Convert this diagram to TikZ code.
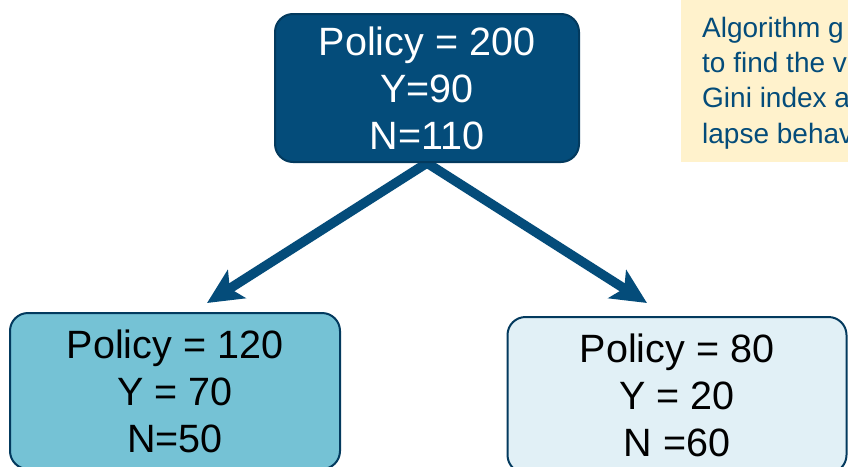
\documentclass[tikz,border=0pt]{standalone}
\usepackage{fontspec}
\setmainfont{Liberation Sans}
\usetikzlibrary{arrows.meta,backgrounds}
\definecolor{dkblue}{RGB}{4,76,122}
\definecolor{dkedge}{RGB}{3,58,94}
\definecolor{midblue}{RGB}{117,194,213}
\definecolor{ltblue}{RGB}{225,240,246}
\definecolor{noteyellow}{RGB}{255,242,204}
\tikzset{
  treebox/.style={draw=dkedge, line width=2pt, rounded corners=18pt, align=center,
    font=\fontsize{39.5}{47}\selectfont, inner sep=0pt},
  splitarrow/.style={draw=dkblue, line width=9.5pt,
    -{Stealth[length=35pt,width=33pt,inset=8pt]}},
  notebox/.style={fill=noteyellow, draw=none, inner sep=0pt},
  notetext/.style={text=dkblue, align=left, inner sep=0pt,
    font=\fontsize{28}{35.3}\selectfont}
}
\begin{document}
\begin{tikzpicture}[x=1pt,y=-1pt]
\useasboundingbox (0,0) rectangle (848,466);
\clip (0,0) rectangle (848,466);
% note
\node[notebox, anchor=north west, minimum width=190pt, minimum height=172pt] (note) at (681,-10) {};
\node[notetext, anchor=base west] (notet) at (702,143) {Algorithm g\\to find the v\\Gini index a\\lapse behav};
% tree
\node[treebox, fill=dkblue, text=white, minimum width=304pt, minimum height=148pt] (root) at (427,88)
  {Policy = 200\\Y=90\\N=110};
\node[treebox, fill=midblue, text=black, minimum width=330pt, minimum height=156pt] (left) at (175,391)
  {Policy = 120\\Y = 70\\N=50};
\node[treebox, fill=ltblue, text=black, minimum width=339pt, minimum height=156pt] (right) at (677,395)
  {Policy = 80\\Y = 20\\N =60};
\coordinate (tipL) at (207,303);
\coordinate (tipR) at (647,303);
\begin{scope}[on background layer]
\draw[splitarrow] (root.south) -- (tipL);
\draw[splitarrow] (root.south) -- (tipR);
\end{scope}
\end{tikzpicture}
\end{document}
